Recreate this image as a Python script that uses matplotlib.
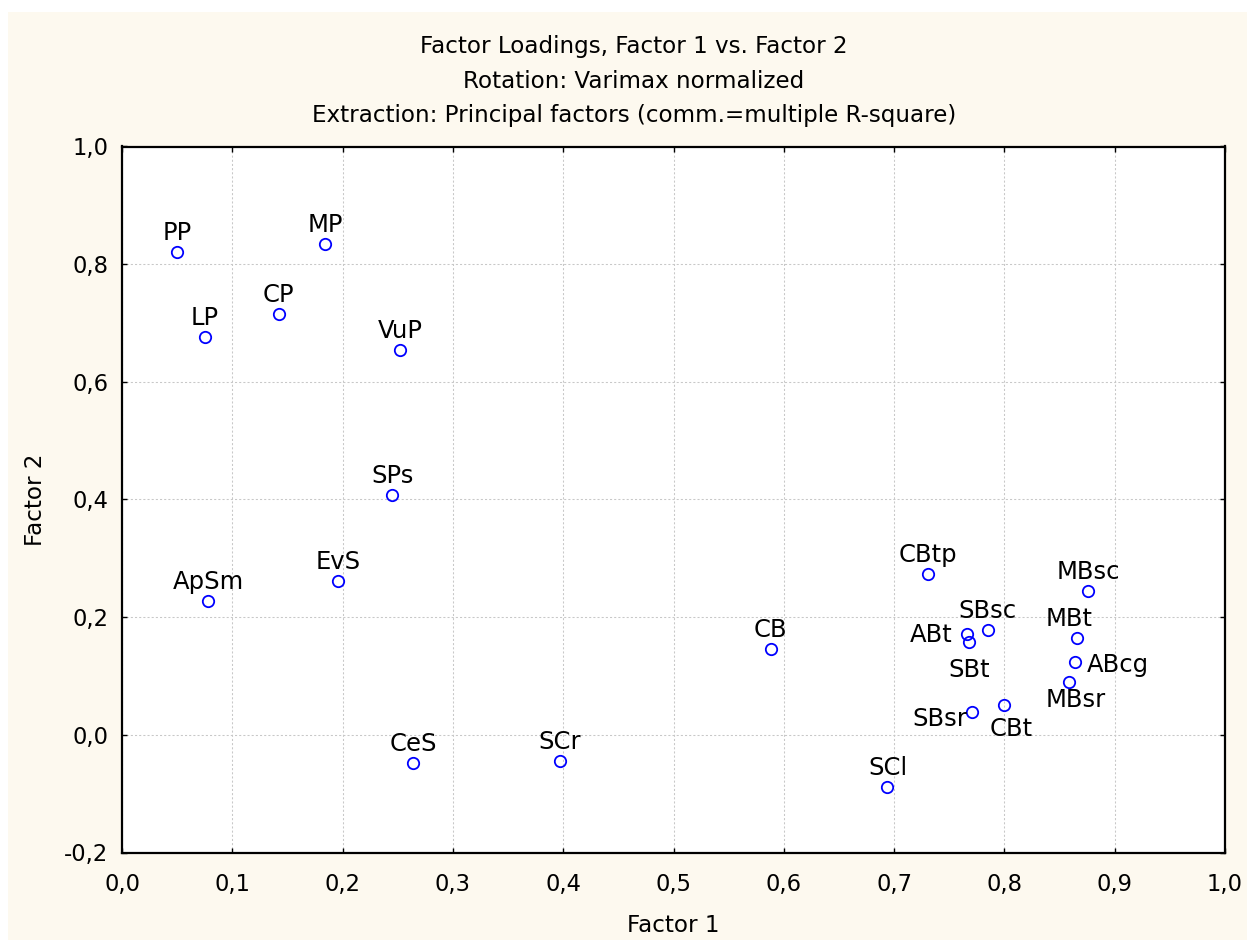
import matplotlib
matplotlib.use("Agg")
import matplotlib.pyplot as plt
from matplotlib.ticker import FuncFormatter
from matplotlib.patches import Rectangle

# ---------------- data ----------------
labels = ["PP", "MP", "CP", "LP", "VuP", "SPs", "ApSm", "EvS", "CeS", "SCr",
          "CB", "SCl", "CBtp", "MBsc", "SBsc", "ABt", "SBt", "MBt", "ABcg",
          "MBsr", "SBsr", "CBt"]
factor1 = [0.050, 0.184, 0.142, 0.075, 0.252, 0.245, 0.078, 0.196, 0.264, 0.397,
           0.588, 0.694, 0.731, 0.876, 0.785, 0.766, 0.768, 0.866, 0.864,
           0.859, 0.771, 0.800]
factor2 = [0.820, 0.834, 0.715, 0.677, 0.654, 0.407, 0.227, 0.261, -0.048, -0.044,
           0.146, -0.089, 0.273, 0.244, 0.178, 0.171, 0.157, 0.165, 0.123,
           0.089, 0.038, 0.050]
x_ticks = [0.0, 0.1, 0.2, 0.3, 0.4, 0.5, 0.6, 0.7, 0.8, 0.9, 1.0]
y_ticks = [-0.2, 0.0, 0.2, 0.4, 0.6, 0.8, 1.0]
title_lines = ["Factor Loadings, Factor 1 vs. Factor 2",
               "Rotation: Varimax normalized",
               "Extraction: Principal factors (comm.=multiple R-square)"]
xlabel = "Factor 1"
ylabel = "Factor 2"

# ---------------- label placement (pixels: dx right, dy up to baseline) ----
placement = {
    "MBt": (-8, 11.3, "center"),
    "ABt": (-14.7, -7.4, "right"),
    "SBt": (0, -34.4, "center"),
    "ABcg": (12, -9.4, "left"),
    "MBsr": (6, -25, "center"),
    "SBsr": (-5.4, -14, "right"),
    "CBt": (6.5, -31, "center"),
}
default_place = (0, 12, "center")

# ---------------- figure ----------------
W, H = 1247, 940
DPI = 100
plt.rcParams["font.family"] = ["DejaVu Sans"]

fig = plt.figure(figsize=(W / DPI, H / DPI), dpi=DPI, facecolor="white")
fig.patches.append(Rectangle((8 / W, 0), 1 - 8 / W, 1 - 12 / H,
                             transform=fig.transFigure, facecolor="#FDF9EF",
                             edgecolor="none", zorder=-10))

left, right, top, bottom = 122, 1225, 146.5, 852.5
ax = fig.add_axes([left / W, 1 - bottom / H, (right - left) / W, (bottom - top) / H])
ax.set_facecolor("white")

ax.plot(factor1, factor2, linestyle="none", marker="o", markersize=8.2,
        markerfacecolor="none", markeredgecolor="#0000FF", markeredgewidth=1.3,
        zorder=3)

px2pt = 72.0 / DPI
for lab, x, y in zip(labels, factor1, factor2):
    dx, dy, ha = placement.get(lab, default_place)
    ax.annotate(lab, (x, y), xytext=(dx * px2pt, dy * px2pt),
                textcoords="offset points", ha=ha, va="baseline",
                fontsize=17.5, color="black", zorder=4)

ax.set_xlim(0.0, 1.0)
ax.set_ylim(-0.2, 1.0)
ax.set_xticks(x_ticks)
ax.set_yticks(y_ticks)
fmt = FuncFormatter(lambda v, p: f"{v:.1f}".replace(".", ",").replace("-0,0", "0,0"))
ax.xaxis.set_major_formatter(fmt)
ax.yaxis.set_major_formatter(fmt)
ax.tick_params(axis="both", direction="in", length=5 * px2pt, width=1.0,
               top=True, right=True, labelsize=16.3, colors="black")
ax.tick_params(axis="x", pad=14.5)
ax.tick_params(axis="y", pad=10)

ax.grid(True, color="#C8C8C8", linestyle=(0, (2, 2)), linewidth=0.75, zorder=0)
ax.set_axisbelow(True)
for s in ax.spines.values():
    s.set_linewidth(1.6)
    s.set_color("black")

# titles
for i, line in enumerate(title_lines):
    fig.text(634 / W, 1 - (53.3 + 34.2 * i) / H, line, ha="center",
             va="baseline", fontsize=16.6, color="black")

fig.text((left + right) / 2 / W, 1 - 932 / H, xlabel, ha="center",
         va="baseline", fontsize=16.6)
fig.text(42.5 / W, 1 - ((top + bottom) / 2) / H, ylabel, ha="center",
         va="baseline", rotation=90, rotation_mode="anchor", fontsize=16.6)

fig.savefig("out.png", dpi=DPI, facecolor=fig.get_facecolor())
